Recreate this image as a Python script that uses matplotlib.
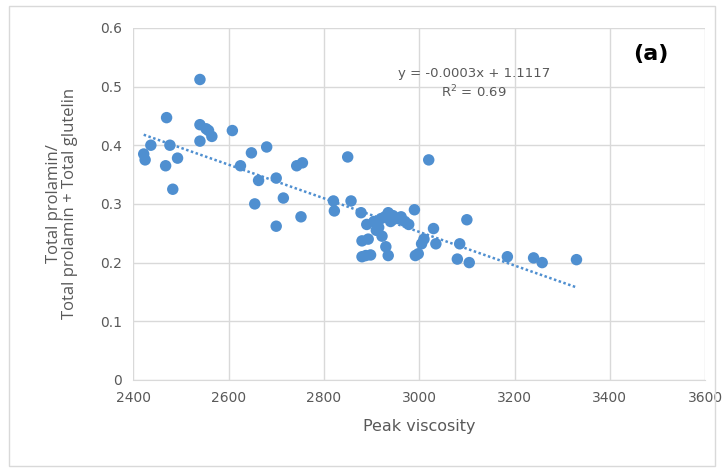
import numpy as np
import matplotlib
matplotlib.use('Agg')
import matplotlib.pyplot as plt
from matplotlib.patches import Rectangle

# datos
peak_viscosity = [2422, 2425, 2437, 2468, 2470, 2477, 2483, 2493, 2540, 2540,
                  2540, 2553, 2558, 2565, 2608, 2625, 2648, 2655, 2663, 2680,
                  2700, 2700, 2715, 2743, 2755, 2752, 2820, 2822, 2850, 2857,
                  2878, 2880, 2880, 2888, 2890, 2893, 2898, 2905, 2910, 2915,
                  2920, 2922, 2928, 2930, 2935, 2935, 2940, 2945, 2955, 2962,
                  2970, 2978, 2990, 2992, 2998, 3005, 3010, 3020, 3030, 3035,
                  3080, 3085, 3100, 3105, 3185, 3240, 3258, 3330]
prolamin_ratio = [0.385, 0.375, 0.400, 0.365, 0.447, 0.400, 0.325, 0.378, 0.512, 0.435,
                  0.407, 0.428, 0.425, 0.415, 0.425, 0.365, 0.387, 0.300, 0.340, 0.397,
                  0.344, 0.262, 0.310, 0.365, 0.370, 0.278, 0.305, 0.288, 0.380, 0.305,
                  0.285, 0.237, 0.210, 0.212, 0.265, 0.240, 0.213, 0.270, 0.255, 0.260,
                  0.275, 0.245, 0.278, 0.227, 0.285, 0.212, 0.270, 0.280, 0.275, 0.278,
                  0.270, 0.265, 0.290, 0.212, 0.215, 0.232, 0.240, 0.375, 0.258, 0.232,
                  0.206, 0.232, 0.273, 0.200, 0.210, 0.208, 0.200, 0.205]

x_ticks = [2400, 2600, 2800, 3000, 3200, 3400, 3600]
y_ticks = [0, 0.1, 0.2, 0.3, 0.4, 0.5, 0.6]
y_tick_labels = ['0', '0.1', '0.2', '0.3', '0.4', '0.5', '0.6']

azul = '#4F8FD0'
gris = '#595959'

fig = plt.figure(figsize=(7.24, 4.72), dpi=100)
fig.patches.append(Rectangle((0.012, 0.012), 0.976, 0.976, transform=fig.transFigure,
                             fill=False, edgecolor='#d9d9d9', linewidth=1))
ax = fig.add_axes([0.184, 0.195, 0.790, 0.746])

ax.scatter(peak_viscosity, prolamin_ratio, s=68, color=azul, edgecolors='none', zorder=3)

# linea de tendencia
x = np.array(peak_viscosity)
m, b = np.polyfit(x, prolamin_ratio, 1)
xl = np.array([x.min(), x.max()])
ax.plot(xl, m * xl + b, linestyle=(0, (1, 1)), color=azul, linewidth=1.8, zorder=2)

ax.set_xlim(2400, 3600)
ax.set_ylim(0, 0.6)
ax.set_xticks(x_ticks)
ax.set_yticks(y_ticks)
ax.set_yticklabels(y_tick_labels)
ax.grid(True, color='#d9d9d9', linewidth=1)
ax.set_axisbelow(True)
for s in ['top', 'right', 'left']:
    ax.spines[s].set_visible(False)
ax.spines['bottom'].set_color('#d9d9d9')
ax.tick_params(length=0, labelcolor=gris, labelsize=10, pad=8)
for lab in ax.get_xticklabels() + ax.get_yticklabels():
    lab.set_family('Liberation Sans Narrow')

ax.set_xlabel('Peak viscosity', color=gris, fontsize=11.5, family='Liberation Sans Narrow', labelpad=10)
ax.set_ylabel('Total prolamin/\nTotal prolamin + Total glutelin', color=gris, fontsize=12,
              family='Open Sans', labelpad=16, linespacing=1.0)

ax.text(3448, 0.545, '(a)', fontsize=16, fontweight='bold', family='Liberation Sans Narrow')
ax.text(3115, 0.517, 'y = -0.0003x + 1.1117', fontsize=9.5, color=gris, ha='center',
        family='Liberation Sans Narrow')
ax.text(3115, 0.482, 'R$^2$ = 0.69', fontsize=9.5, color=gris, ha='center',
        family='Liberation Sans Narrow')

fig.savefig('out.png', dpi=100)
